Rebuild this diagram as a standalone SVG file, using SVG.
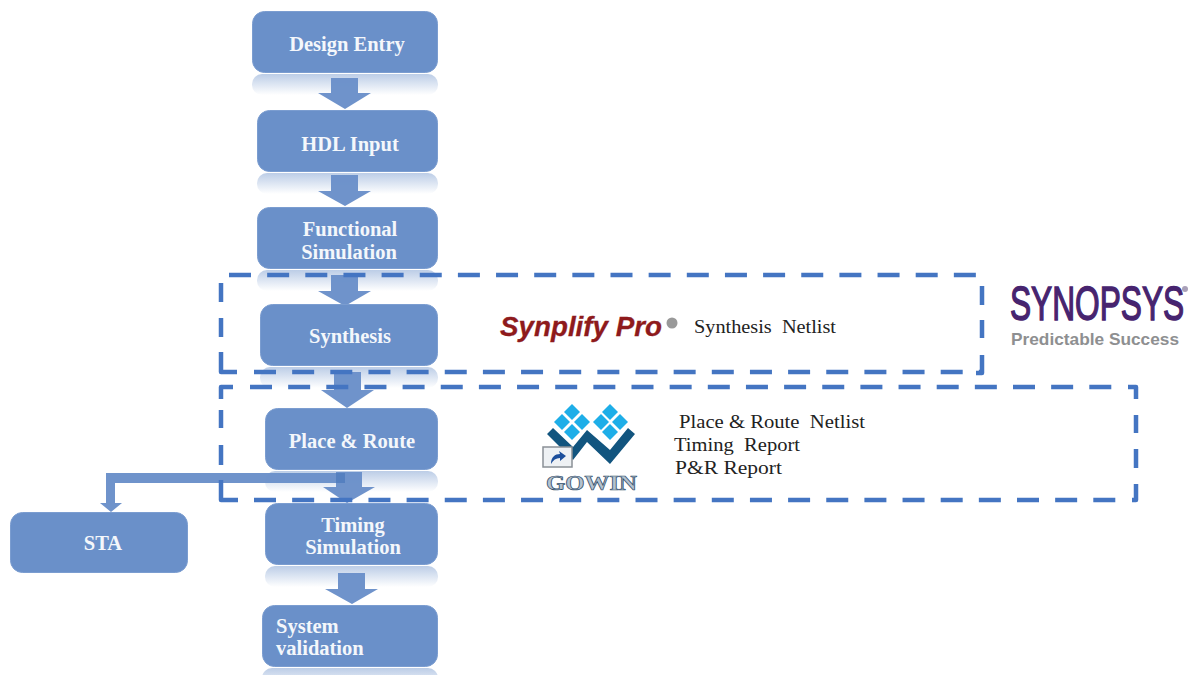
<svg xmlns="http://www.w3.org/2000/svg" width="1194" height="675" viewBox="0 0 1194 675">
<style>
.box{fill:#6a90c9;stroke:#7b9dd0;stroke-width:1}
.refl{fill:url(#fade)}
.arr{fill:#6a90c9;fill-opacity:.97}
.lbl{font-family:"Liberation Serif",serif;font-weight:bold;font-size:20.500px;fill:#f4f7fb;text-anchor:middle}
.note{font-family:"Liberation Serif",serif;font-size:19.500px;fill:#222;white-space:pre}
.dash{fill:none;stroke:#4475c2;stroke-width:4.500;stroke-dasharray:22 16.150}
.solid{fill:none;stroke:#4475c2;stroke-width:4.500;stroke-linejoin:round}
.lt{fill:#1eaee8}
.dk{fill:#12557f}
</style>
<defs>
<linearGradient id="fade" x1="0" y1="0" x2="0" y2="1">
<stop offset="0" stop-color="#6a90c9" stop-opacity=".45"/>
<stop offset="1" stop-color="#6a90c9" stop-opacity="0"/>
</linearGradient>
<path id="dia" d="M0-8 8 0 0 8-8 0Z"/>
</defs>
<rect width="1194" height="675" fill="#fff"/>
<g id="reflections">
<rect class="refl" x="252" y="74" width="186" height="21" rx="10"/>
<rect class="refl" x="257" y="173" width="181" height="21" rx="10"/>
<rect class="refl" x="257" y="270" width="181" height="21" rx="10"/>
<rect class="refl" x="260" y="367" width="178" height="21" rx="10"/>
<rect class="refl" x="265" y="471" width="173" height="21" rx="10"/>
<rect class="refl" x="265" y="566" width="173" height="21" rx="10"/>
<rect class="refl" x="262" y="668" width="176" height="21" rx="10"/>
</g>
<g id="connectors">
<path class="arr" d="M331 78h27v15h13l-26 16-27-16h13z"/>
<path class="arr" d="M331 175h27v16h13l-26 15-27-15h13z"/>
<path class="arr" d="M331 275h27v16h13l-26 15-27-15h13z"/>
<path class="arr" d="M334 372h27v18h13l-27 18-26-18h13z"/>
<path class="arr" d="M336 472h26v15h13l-28 16-24-16h13z"/>
<path class="arr" d="M338 573h27v16h13l-26 15-27-15h13z"/>
<path class="arr" d="M345 473V483H115V503H122L111 512 100 503H106V473Z"/>
<path fill="#5580c0" d="M336 473h9v10h-9z"/>
</g>
<g id="node-design-entry"><rect class="box" x="252.500" y="11.500" width="185" height="61" rx="12"/><text class="lbl" x="347" y="51">Design Entry</text></g>
<g id="node-hdl-input"><rect class="box" x="257.500" y="110.500" width="180" height="61" rx="12"/><text class="lbl" x="350" y="151">HDL Input</text></g>
<g id="node-functional-simulation"><rect class="box" x="257.500" y="207.500" width="180" height="61" rx="12"/><text class="lbl" x="350" y="236">Functional</text><text class="lbl" x="349" y="259">Simulation</text></g>
<g id="node-synthesis"><rect class="box" x="260.500" y="304.500" width="177" height="61" rx="12"/><text class="lbl" x="350" y="343">Synthesis</text></g>
<g id="node-place-route"><rect class="box" x="265.500" y="408.500" width="172" height="61" rx="12"/><text class="lbl" x="352" y="448">Place &amp; Route</text></g>
<g id="node-timing-simulation"><rect class="box" x="265.500" y="503.500" width="172" height="61" rx="12"/><text class="lbl" x="353" y="532">Timing</text><text class="lbl" x="353" y="554">Simulation</text></g>
<g id="node-system-validation"><rect class="box" x="262.500" y="605.500" width="175" height="61" rx="12"/><text class="lbl" x="276" y="633" style="text-anchor:start">System</text><text class="lbl" x="276" y="655" style="text-anchor:start">validation</text></g>
<g id="node-sta"><rect class="box" x="10.500" y="512.500" width="177" height="60" rx="12"/><text class="lbl" x="103" y="550">STA</text></g>
<g id="group-synthesis">
<path class="dash" d="M229 275H977"/>
<path class="dash" d="M254 372H980"/>
<path class="solid" d="M221 283V302M221 318V337M221 352V372H237"/>
<path class="solid" d="M982 286V305M982 320V338M982 355V373H976"/>
</g>
<g id="group-par">
<path class="dash" d="M250 387H1112"/>
<path class="dash" d="M254 500H1116"/>
<path class="solid" d="M233 387H221V399M221 410V428M221 445V465M221 480V500H238"/>
<path class="solid" d="M1128 387H1136V399M1136 415V433M1136 449V468M1136 484V500H1132"/>
</g>
<g id="synplify-logo">
<text x="500" y="336" font-family="'Liberation Sans',sans-serif" font-weight="bold" font-style="italic" font-size="27" fill="#8e1a1c" stroke="#8e1a1c" stroke-width=".3" textLength="162" lengthAdjust="spacingAndGlyphs">Synplify Pro</text>
<circle cx="672" cy="323" r="5.500" fill="#999"/>
</g>
<text class="note" x="694" y="333" textLength="142" lengthAdjust="spacingAndGlyphs">Synthesis  Netlist</text>
<g id="gowin-logo">
<use href="#dia" class="lt" x="572" y="412"/>
<use href="#dia" class="lt" x="610" y="412"/>
<use href="#dia" class="lt" x="562" y="422"/>
<use href="#dia" class="lt" x="582" y="422"/>
<use href="#dia" class="lt" x="601" y="422"/>
<use href="#dia" class="lt" x="620" y="422"/>
<use href="#dia" class="lt" x="572" y="432"/>
<use href="#dia" class="lt" x="610" y="432"/>
<path class="dk" d="M547 434 553 428 573 447 587 430 610 450 628 428 635 434 610 464 587 442 573 460Z"/>
<rect x="543" y="447" width="29" height="20" fill="#eef1f4" stroke="#8a9096" stroke-width="1.500"/>
<path fill="#1c4f9c" d="M551 464c0-7 4-10 9-10l-1-3 7 5-6 5v-3c-4 0-7 2-9 6z"/>
<text x="546" y="490" font-family="'Liberation Serif',serif" font-weight="bold" font-size="21" fill="#b4c2cf" stroke="#2f4d6a" stroke-width=".7" textLength="91" lengthAdjust="spacingAndGlyphs">GOWIN</text>
</g>
<g id="par-notes">
<text class="note" x="679" y="428" textLength="186" lengthAdjust="spacingAndGlyphs">Place &amp; Route  Netlist</text>
<text class="note" x="674" y="451" textLength="126" lengthAdjust="spacingAndGlyphs">Timing  Report</text>
<text class="note" x="675" y="474" textLength="107" lengthAdjust="spacingAndGlyphs">P&amp;R Report</text>
</g>
<g id="synopsys-logo">
<text transform="translate(1010 320) scale(.88 1.33)" font-family="'Liberation Sans',sans-serif" font-size="36" fill="#47246f" stroke="#47246f" stroke-width="1.100">SYNOPSYS</text>
<circle cx="1185" cy="289" r="3" fill="#a9a0b8"/>
<text x="1011" y="345" font-family="'Liberation Sans',sans-serif" font-weight="bold" font-size="16.500" fill="#8e8f91" textLength="168" lengthAdjust="spacingAndGlyphs">Predictable Success</text>
</g>
</svg>
